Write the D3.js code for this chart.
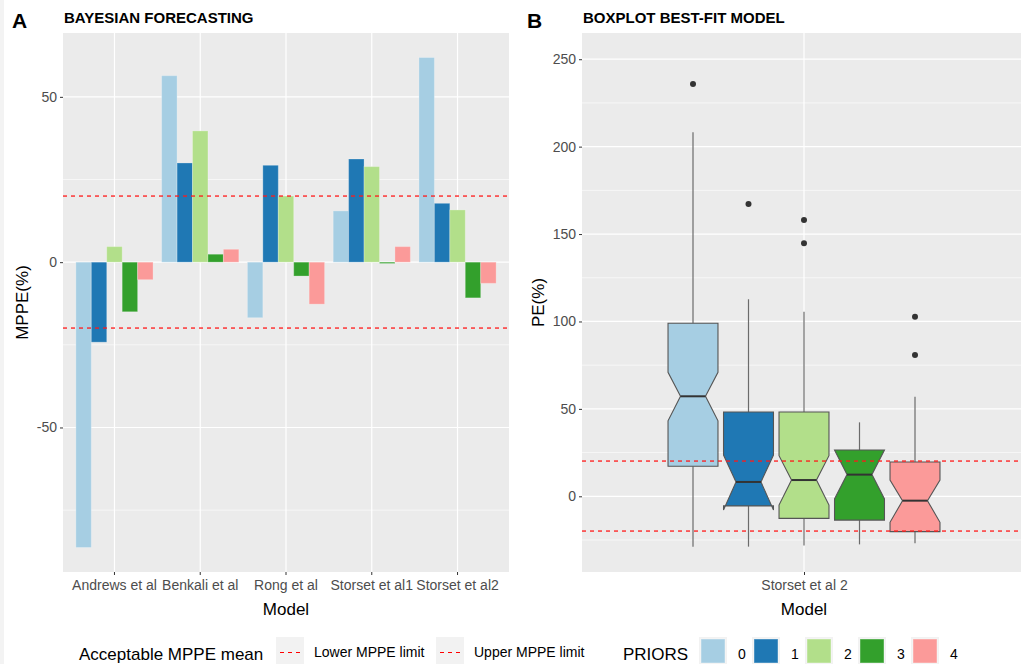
<!DOCTYPE html>
<html>
<head>
<meta charset="utf-8">
<script src="https://cdn.jsdelivr.net/npm/d3@7"></script>
<style>
  body { margin: 0; background: #fff; }
  svg { font-family: "Liberation Sans", Arial, sans-serif; display: block; }
</style>
</head>
<body>
<div id="chart"></div>
<script>
// panel A: bayesian forecasting MPPE per model and prior
var models = ["Andrews et al", "Benkali et al", "Rong et al", "Storset et al1", "Storset et al2"];
var priors = ["0", "1", "2", "3", "4"];
var prior0 = [-86.3, 56.4, -16.8, 15.5, 61.9];
var prior1 = [-24.2, 30.0, 29.3, 31.2, 17.8];
var prior2 = [4.7, 39.7, 20.0, 28.9, 15.8];
var prior3 = [-15.0, 2.4, -4.2, -0.4, -10.8];
var prior4 = [-5.3, 3.9, -12.7, 4.7, -6.4];
var mppeLimits = [-20, 20];
var yTicksA = [-50, 0, 50];
var yMinorA = [-75, -25, 25];

// panel B: boxplot of best-fit model
var boxModel = ["Storset et al 2"];
var boxLow = [-28.8, -28.8, -28.2, -27.5, -26.9];
var boxQ1 = [17.2, -5.5, -12.6, -13.6, -20.2];
var boxMedian = [57.2, 8.2, 9.3, 12.4, -2.5];
var boxQ3 = [99, 48.2, 48.2, 26.5, 19.6];
var boxHigh = [208.2, 112.7, 105.6, 42.3, 57.0];
var notchLow = [43.2, -7.8, -5.0, -1.5, -14.9];
var notchHigh = [70.9, 23.6, 23.2, 26.5, 9.3];
var outliers = [[235.9], [167.2], [158.1, 144.7], [], [102.7, 80.8]];
var yTicksB = [0, 50, 100, 150, 200, 250];
var yMinorB = [-25, 25, 75, 125, 175, 225];

var colors = ["#A6CEE3", "#1F78B4", "#B2DF8A", "#33A02C", "#FB9A99"];

function init() {
    var w = 1021, h = 664;
    var top = 33, bottom = 572;
    var txtGray = "#4d4d4d";
    var plain = function(d) { return String(d); };  // hyphen minus like the original

    var svg = d3.select("#chart").append("svg")
        .attr("width", w)
        .attr("height", h);

    svg.append("rect").attr("x", 0).attr("y", 0).attr("width", 4).attr("height", h).attr("fill", "#f3f3f3");

    var color = d3.scaleOrdinal().domain(priors).range(colors);
    var series = [prior0, prior1, prior2, prior3, prior4];

    // ---------- panel A ----------
    var ax0 = 63, ax1 = 509;
    var allVals = [].concat(prior0, prior1, prior2, prior3, prior4);
    var lo = d3.min(allVals), hi = d3.max(allVals), pad = (hi - lo) * 0.05;

    var xA = d3.scaleBand().domain(models).range([ax0, ax1])
        .paddingInner(0.1).paddingOuter(0.15);
    var xInner = d3.scaleBand().domain(priors).range([0, xA.bandwidth()]);
    var yA = d3.scaleLinear().domain([lo - pad, hi + pad]).range([bottom, top]);

    var gA = svg.append("g");
    gA.append("rect").attr("x", ax0).attr("y", top)
        .attr("width", ax1 - ax0).attr("height", bottom - top).attr("fill", "#ebebeb");

    gA.selectAll(".minorA").data(yMinorA).enter().append("line")
        .attr("x1", ax0).attr("x2", ax1)
        .attr("y1", function(d) { return yA(d); }).attr("y2", function(d) { return yA(d); })
        .attr("stroke", "#fff").attr("stroke-width", 0.6);
    gA.selectAll(".majorA").data(yTicksA).enter().append("line")
        .attr("x1", ax0).attr("x2", ax1)
        .attr("y1", function(d) { return yA(d); }).attr("y2", function(d) { return yA(d); })
        .attr("stroke", "#fff").attr("stroke-width", 1.2);
    gA.selectAll(".vA").data(models).enter().append("line")
        .attr("x1", function(d) { return xA(d) + xA.bandwidth() / 2; })
        .attr("x2", function(d) { return xA(d) + xA.bandwidth() / 2; })
        .attr("y1", top).attr("y2", bottom)
        .attr("stroke", "#fff").attr("stroke-width", 1.2);

    // bars
    var barData = [];
    models.forEach(function(m, i) {
        priors.forEach(function(p, j) {
            barData.push({ model: m, prior: p, value: series[j][i] });
        });
    });
    gA.selectAll(".bar").data(barData).enter().append("rect")
        .attr("x", function(d) { return xA(d.model) + xInner(d.prior); })
        .attr("width", xInner.bandwidth())
        .attr("y", function(d) { return yA(Math.max(0, d.value)); })
        .attr("height", function(d) { return Math.abs(yA(d.value) - yA(0)); })
        .attr("fill", function(d) { return color(d.prior); })
        .attr("stroke", "#fff").attr("stroke-opacity", 0.25).attr("stroke-width", 1);

    var yAxisA = d3.axisLeft(yA).tickValues(yTicksA).tickFormat(plain).tickSize(3).tickPadding(3);
    var gyA = svg.append("g").attr("transform", "translate(" + ax0 + ",0)").call(yAxisA);
    var xAxisA = d3.axisBottom(xA).tickSize(3).tickPadding(5);
    var gxA = svg.append("g").attr("transform", "translate(0," + bottom + ")").call(xAxisA);

    // ---------- panel B ----------
    var bx0 = 582, bx1 = 1021;
    var xB = d3.scalePoint().domain(boxModel).range([bx0, bx0 + 444]).padding(0.6);
    var unit = 444 / 1.2;
    var cB = xB(boxModel[0]);
    var xDodge = d3.scaleBand().domain(priors).range([cB - 0.375 * unit, cB + 0.375 * unit]);
    var yB = d3.scaleLinear().domain([-43.3, 265]).range([bottom, top]);

    var gB = svg.append("g");
    gB.append("rect").attr("x", bx0).attr("y", top)
        .attr("width", bx1 - bx0).attr("height", bottom - top).attr("fill", "#ebebeb");
    gB.selectAll(".minorB").data(yMinorB).enter().append("line")
        .attr("x1", bx0).attr("x2", bx1)
        .attr("y1", function(d) { return yB(d); }).attr("y2", function(d) { return yB(d); })
        .attr("stroke", "#fff").attr("stroke-width", 0.6);
    gB.selectAll(".majorB").data(yTicksB).enter().append("line")
        .attr("x1", bx0).attr("x2", bx1)
        .attr("y1", function(d) { return yB(d); }).attr("y2", function(d) { return yB(d); })
        .attr("stroke", "#fff").attr("stroke-width", 1.2);
    gB.append("line").attr("x1", cB).attr("x2", cB).attr("y1", top).attr("y2", bottom)
        .attr("stroke", "#fff").attr("stroke-width", 1.2);

    var boxes = priors.map(function(p, i) {
        return { prior: p, low: boxLow[i], q1: boxQ1[i], med: boxMedian[i], q3: boxQ3[i],
                 high: boxHigh[i], nlo: notchLow[i], nhi: notchHigh[i], out: outliers[i] };
    });
    var bw = xDodge.bandwidth() * 0.9;

    var gBox = gB.selectAll(".box").data(boxes).enter().append("g")
        .attr("transform", function(d) { return "translate(" + (xDodge(d.prior) + xDodge.bandwidth() / 2) + ",0)"; });

    // whiskers
    gBox.append("line").attr("x1", 0).attr("x2", 0)
        .attr("y1", function(d) { return yB(d.q3); }).attr("y2", function(d) { return yB(d.high); })
        .attr("stroke", "#6b6b6b").attr("stroke-width", 1.2);
    gBox.append("line").attr("x1", 0).attr("x2", 0)
        .attr("y1", function(d) { return yB(d.q1); }).attr("y2", function(d) { return yB(d.low); })
        .attr("stroke", "#6b6b6b").attr("stroke-width", 1.2);

    // notched box
    gBox.append("path")
        .attr("d", function(d) {
            var xl = -bw / 2, xr = bw / 2, ind = bw * 0.25;
            var pts = [[xl, yB(d.q3)], [xl, yB(d.nhi)], [xl + ind, yB(d.med)], [xl, yB(d.nlo)], [xl, yB(d.q1)],
                       [xr, yB(d.q1)], [xr, yB(d.nlo)], [xr - ind, yB(d.med)], [xr, yB(d.nhi)], [xr, yB(d.q3)]];
            return "M" + pts.join("L") + "Z";
        })
        .attr("fill", function(d) { return color(d.prior); })
        .attr("stroke", "#555").attr("stroke-width", 1.1);
    gBox.append("line")
        .attr("x1", -bw / 4).attr("x2", bw / 4)
        .attr("y1", function(d) { return yB(d.med); }).attr("y2", function(d) { return yB(d.med); })
        .attr("stroke", "#333").attr("stroke-width", 2);
    gBox.selectAll(".out").data(function(d) { return d.out; }).enter().append("circle")
        .attr("cx", 0).attr("cy", function(d) { return yB(d); }).attr("r", 3)
        .attr("fill", "#333");

    var gyB = svg.append("g").attr("transform", "translate(" + bx0 + ",0)")
        .call(d3.axisLeft(yB).tickValues(yTicksB).tickFormat(plain).tickSize(3).tickPadding(3));
    var gxB = svg.append("g").attr("transform", "translate(0," + bottom + ")")
        .call(d3.axisBottom(xB).tickSize(3).tickPadding(5));

    // axis styling
    [gyA, gxA, gyB, gxB].forEach(function(g) {
        g.select(".domain").remove();
        g.selectAll(".tick line").attr("stroke", "#333").attr("stroke-width", 1);
        g.selectAll(".tick text").attr("fill", txtGray).attr("font-size", 14)
            .attr("font-family", "'Liberation Sans', Arial, sans-serif");
    });

    // dashed MPPE limits on both panels, dashes drawn as small rects
    var gLim = svg.append("g").attr("class", "limits");
    var dashes = [];
    mppeLimits.forEach(function(v) {
        var ya = Math.round(yA(v)) - 0.6, yb = Math.round(yB(v)) - 0.6;
        for (var x = ax0; x < ax1; x += 8) dashes.push({ x: x, y: ya, w: Math.min(4, ax1 - x) });
        for (var x2 = bx0; x2 < bx1; x2 += 8) dashes.push({ x: x2, y: yb, w: Math.min(4, bx1 - x2) });
    });
    gLim.selectAll("rect.dash").data(dashes).enter().append("rect")
        .attr("class", "dash")
        .attr("x", function(d) { return d.x; }).attr("y", function(d) { return d.y; })
        .attr("width", function(d) { return d.w; }).attr("height", 1.3)
        .attr("fill", "#ff1a1a");

    // titles
    svg.append("text").attr("x", 12).attr("y", 28).text("A")
        .attr("font-size", 21).attr("font-weight", "bold");
    svg.append("text").attr("x", 64).attr("y", 23).text("BAYESIAN FORECASTING")
        .attr("font-size", 15).attr("font-weight", "bold");
    svg.append("text").attr("x", 527).attr("y", 28).text("B")
        .attr("font-size", 21).attr("font-weight", "bold");
    svg.append("text").attr("x", 583).attr("y", 23).text("BOXPLOT BEST-FIT MODEL")
        .attr("font-size", 15).attr("font-weight", "bold");

    svg.append("text").attr("x", (ax0 + ax1) / 2).attr("y", 615).attr("text-anchor", "middle")
        .attr("font-size", 17).text("Model");
    svg.append("text").attr("x", cB).attr("y", 615).attr("text-anchor", "middle")
        .attr("font-size", 17).text("Model");
    svg.append("text").attr("transform", "translate(28," + (top + bottom) / 2 + ") rotate(-90)")
        .attr("text-anchor", "middle").attr("font-size", 17).text("MPPE(%)");
    svg.append("text").attr("transform", "translate(544," + (top + bottom) / 2 + ") rotate(-90)")
        .attr("text-anchor", "middle").attr("font-size", 17).text("PE(%)");

    // legend
    var legY = 637;
    svg.append("text").attr("x", 79).attr("y", 660).attr("font-size", 17).text("Acceptable MPPE mean");
    var limLabels = [{ x: 276, label: "Lower MPPE limit" }, { x: 436, label: "Upper MPPE limit" }];
    var gl = svg.selectAll(".limKey").data(limLabels).enter().append("g");
    gl.append("rect").attr("x", function(d) { return d.x; }).attr("y", legY)
        .attr("width", 28).attr("height", 28).attr("fill", "#f2f2f2");
    gl.append("line").attr("x1", function(d) { return d.x + 4; }).attr("x2", function(d) { return d.x + 26; })
        .attr("y1", legY + 15.5).attr("y2", legY + 15.5)
        .style("stroke", "rgb(255,0,0)").style("stroke-width", "1.2px").style("stroke-dasharray", "4,4");
    gl.append("text").attr("x", function(d) { return d.x + 38; }).attr("y", 657)
        .attr("font-size", 14).text(function(d) { return d.label; });

    svg.append("text").attr("x", 623).attr("y", 660).attr("font-size", 17).text("PRIORS");
    var kx = d3.scalePoint().domain(priors).range([700, 912]);
    var gk = svg.selectAll(".prKey").data(priors).enter().append("g");
    gk.append("rect").attr("x", function(d) { return kx(d) - 1; }).attr("y", legY)
        .attr("width", 28).attr("height", 28).attr("fill", "#f2f2f2");
    gk.append("rect").attr("x", function(d) { return kx(d) + 1; }).attr("y", legY + 2)
        .attr("width", 24).attr("height", 24)
        .attr("fill", function(d) { return color(d); })
        .attr("stroke", "#fff").attr("stroke-opacity", 0.4);
    gk.append("text").attr("x", function(d) { return kx(d) + 38; }).attr("y", 659)
        .attr("font-size", 14).text(function(d) { return d; });
}

window.onload = init;
</script>
</body>
</html>
